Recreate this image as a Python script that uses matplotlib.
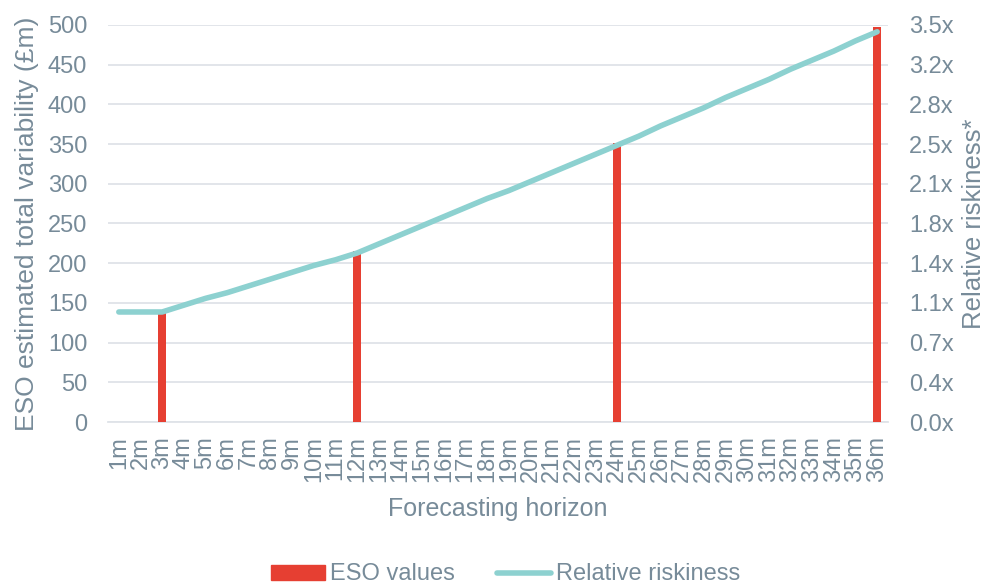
import numpy as np
import matplotlib
matplotlib.use("Agg")
import matplotlib.pyplot as plt
from matplotlib.lines import Line2D
from matplotlib.patches import Patch

plt.rcParams['font.family'] = ['Liberation Sans', 'DejaVu Sans']

# forecasting horizon categories
months = ['%dm' % m for m in range(1, 37)]

# ESO estimated total variability (GBP m), only reported at a few horizons
bar_months = ['3m', '12m', '24m', '36m']
bar_values = [137, 215, 351, 497]

# relative riskiness (x) for every horizon
riskiness = [0.97, 0.97, 0.97, 1.03, 1.09, 1.14, 1.20, 1.26, 1.32, 1.38, 1.43, 1.49,
             1.57, 1.65, 1.73, 1.81, 1.89, 1.97, 2.04, 2.12, 2.20, 2.28, 2.36, 2.44,
             2.52, 2.61, 2.69, 2.77, 2.86, 2.94, 3.02, 3.11, 3.19, 3.27, 3.36, 3.44]

left_ticks = [0, 50, 100, 150, 200, 250, 300, 350, 400, 450, 500]
right_labels = ['0.0x', '0.4x', '0.7x', '1.1x', '1.4x', '1.8x', '2.1x', '2.5x', '2.8x', '3.2x', '3.5x']

txt = '#778b99'
grid = '#dfe3e8'
red = '#e63f32'
teal = '#8dd1d0'

fig = plt.figure(figsize=(9.87, 5.85), dpi=100)
ax = fig.add_axes([0.1094, 0.2786, 0.7903, 0.6787])
ax2 = ax.twinx()

x = np.arange(len(months))
bx = [months.index(m) for m in bar_months]
ax.bar(bx, bar_values, width=0.37, color=red, zorder=3)
ax.set_xlim(-0.5, len(months) - 0.5)
ax.set_ylim(0, 500)
ax.set_yticks(left_ticks)
ax.set_xticks(x)
ax.set_xticklabels(months, rotation=90, fontsize=17, color=txt)
ax.yaxis.grid(True, color=grid, linewidth=1.3, zorder=0)
ax.set_axisbelow(True)
ax.tick_params(axis='y', length=0, labelsize=17, labelcolor=txt, pad=15)
ax.tick_params(axis='x', length=0, pad=10)
for s in ['top', 'right', 'left']:
    ax.spines[s].set_visible(False)
ax.spines['bottom'].set_color(grid)
ax.spines['bottom'].set_linewidth(1.3)
ax.set_ylabel('ESO estimated total variability (£m)', fontsize=19, color=txt, labelpad=6)
ax.set_xlabel('Forecasting horizon', fontsize=18, color=txt, labelpad=11)

ax2.plot(x, riskiness, color=teal, linewidth=4, solid_capstyle='round', zorder=4)
ax2.set_ylim(0, 3.5)
ax2.set_yticks(np.linspace(0, 3.5, len(right_labels)))
ax2.set_yticklabels(right_labels)
ax2.tick_params(axis='y', length=0, labelsize=17, labelcolor=txt, pad=15)
for s in ax2.spines.values():
    s.set_visible(False)
ax2.set_ylabel('Relative riskiness*', fontsize=18.5, color=txt, labelpad=6)

handles = [Patch(color=red), Line2D([0], [0], color=teal, linewidth=4, solid_capstyle='round')]
leg = fig.legend(handles, ['ESO values', 'Relative riskiness'], loc='center',
                 bbox_to_anchor=(0.512, 0.018), ncol=2, frameon=False, fontsize=17,
                 handlelength=2.3, handleheight=0.6, columnspacing=1.8, handletextpad=0.2)
for t in leg.get_texts():
    t.set_color(txt)

fig.savefig('out.png', dpi=100)
